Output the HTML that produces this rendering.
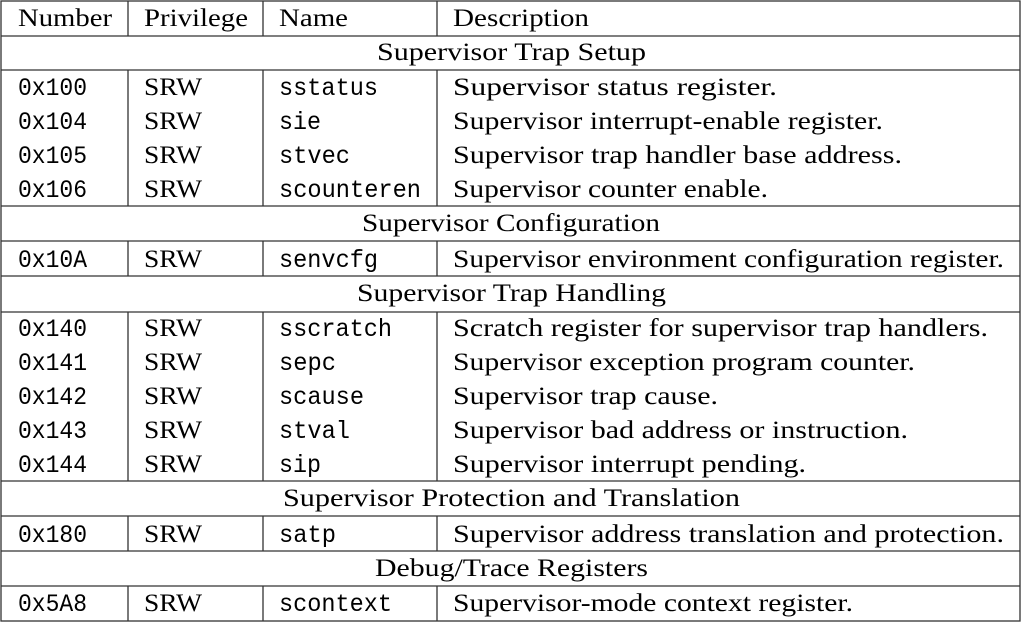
<!DOCTYPE html>
<html><head><style>html,body{margin:0;padding:0;background:#fff}svg{display:block}
.s{font-family:"Liberation Serif",serif;font-size:25px;fill:#000}
.m{font-family:"Liberation Mono",monospace;font-size:25px;fill:#000}</style></head><body>
<svg width="1023" height="623" xmlns="http://www.w3.org/2000/svg">
<g stroke="#333" stroke-width="1.3" fill="none">
<rect x="1" y="1" width="1019" height="620"/>
<line x1="1" y1="36" x2="1020" y2="36"/><line x1="1" y1="70" x2="1020" y2="70"/>
<line x1="1" y1="206" x2="1020" y2="206"/><line x1="1" y1="241" x2="1020" y2="241"/>
<line x1="1" y1="276" x2="1020" y2="276"/><line x1="1" y1="312" x2="1020" y2="312"/>
<line x1="1" y1="481" x2="1020" y2="481"/><line x1="1" y1="516" x2="1020" y2="516"/>
<line x1="1" y1="551" x2="1020" y2="551"/><line x1="1" y1="586" x2="1020" y2="586"/>
<line x1="128" y1="1" x2="128" y2="36"/><line x1="263" y1="1" x2="263" y2="36"/><line x1="437" y1="1" x2="437" y2="36"/>
<line x1="128" y1="70" x2="128" y2="206"/><line x1="263" y1="70" x2="263" y2="206"/><line x1="437" y1="70" x2="437" y2="206"/>
<line x1="128" y1="241" x2="128" y2="276"/><line x1="263" y1="241" x2="263" y2="276"/><line x1="437" y1="241" x2="437" y2="276"/>
<line x1="128" y1="312" x2="128" y2="481"/><line x1="263" y1="312" x2="263" y2="481"/><line x1="437" y1="312" x2="437" y2="481"/>
<line x1="128" y1="516" x2="128" y2="551"/><line x1="263" y1="516" x2="263" y2="551"/><line x1="437" y1="516" x2="437" y2="551"/>
<line x1="128" y1="586" x2="128" y2="621"/><line x1="263" y1="586" x2="263" y2="621"/><line x1="437" y1="586" x2="437" y2="621"/>
</g>
<g>
<text class="s" lengthAdjust="spacingAndGlyphs" x="18" y="26" textLength="94">Number</text>
<text class="s" lengthAdjust="spacingAndGlyphs" x="144" y="26" textLength="104">Privilege</text>
<text class="s" lengthAdjust="spacingAndGlyphs" x="279" y="26" textLength="69">Name</text>
<text class="s" lengthAdjust="spacingAndGlyphs" x="453" y="26" textLength="136">Description</text>

<text class="s" lengthAdjust="spacingAndGlyphs" x="377" y="60" textLength="269">Supervisor Trap Setup</text>
<text class="s" lengthAdjust="spacingAndGlyphs" x="362" y="231" textLength="298">Supervisor Configuration</text>
<text class="s" lengthAdjust="spacingAndGlyphs" x="357" y="301" textLength="309">Supervisor Trap Handling</text>
<text class="s" lengthAdjust="spacingAndGlyphs" x="283" y="506" textLength="457">Supervisor Protection and Translation</text>
<text class="s" lengthAdjust="spacingAndGlyphs" x="375" y="576" textLength="273">Debug/Trace Registers</text>

<text class="m" lengthAdjust="spacingAndGlyphs" x="18" y="95" textLength="69">0x100</text><text class="s" lengthAdjust="spacingAndGlyphs" x="144" y="95" textLength="58">SRW</text><text class="m" lengthAdjust="spacingAndGlyphs" x="279" y="95" textLength="99">sstatus</text><text class="s" lengthAdjust="spacingAndGlyphs" x="453" y="95" textLength="324">Supervisor status register.</text>
<text class="m" lengthAdjust="spacingAndGlyphs" x="18" y="129" textLength="69">0x104</text><text class="s" lengthAdjust="spacingAndGlyphs" x="144" y="129" textLength="58">SRW</text><text class="m" lengthAdjust="spacingAndGlyphs" x="279" y="129" textLength="42">sie</text><text class="s" lengthAdjust="spacingAndGlyphs" x="453" y="129" textLength="430">Supervisor interrupt-enable register.</text>
<text class="m" lengthAdjust="spacingAndGlyphs" x="18" y="163" textLength="69">0x105</text><text class="s" lengthAdjust="spacingAndGlyphs" x="144" y="163" textLength="58">SRW</text><text class="m" lengthAdjust="spacingAndGlyphs" x="279" y="163" textLength="71">stvec</text><text class="s" lengthAdjust="spacingAndGlyphs" x="453" y="163" textLength="449">Supervisor trap handler base address.</text>
<text class="m" lengthAdjust="spacingAndGlyphs" x="18" y="197" textLength="69">0x106</text><text class="s" lengthAdjust="spacingAndGlyphs" x="144" y="197" textLength="58">SRW</text><text class="m" lengthAdjust="spacingAndGlyphs" x="279" y="197" textLength="142">scounteren</text><text class="s" lengthAdjust="spacingAndGlyphs" x="453" y="197" textLength="315">Supervisor counter enable.</text>

<text class="m" lengthAdjust="spacingAndGlyphs" x="18" y="267" textLength="69">0x10A</text><text class="s" lengthAdjust="spacingAndGlyphs" x="144" y="267" textLength="58">SRW</text><text class="m" lengthAdjust="spacingAndGlyphs" x="279" y="267" textLength="99">senvcfg</text><text class="s" lengthAdjust="spacingAndGlyphs" x="453" y="267" textLength="551">Supervisor environment configuration register.</text>

<text class="m" lengthAdjust="spacingAndGlyphs" x="18" y="336" textLength="69">0x140</text><text class="s" lengthAdjust="spacingAndGlyphs" x="144" y="336" textLength="58">SRW</text><text class="m" lengthAdjust="spacingAndGlyphs" x="279" y="336" textLength="113">sscratch</text><text class="s" lengthAdjust="spacingAndGlyphs" x="453" y="336" textLength="535">Scratch register for supervisor trap handlers.</text>
<text class="m" lengthAdjust="spacingAndGlyphs" x="18" y="370" textLength="69">0x141</text><text class="s" lengthAdjust="spacingAndGlyphs" x="144" y="370" textLength="58">SRW</text><text class="m" lengthAdjust="spacingAndGlyphs" x="279" y="370" textLength="57">sepc</text><text class="s" lengthAdjust="spacingAndGlyphs" x="453" y="370" textLength="462">Supervisor exception program counter.</text>
<text class="m" lengthAdjust="spacingAndGlyphs" x="18" y="404" textLength="69">0x142</text><text class="s" lengthAdjust="spacingAndGlyphs" x="144" y="404" textLength="58">SRW</text><text class="m" lengthAdjust="spacingAndGlyphs" x="279" y="404" textLength="85">scause</text><text class="s" lengthAdjust="spacingAndGlyphs" x="453" y="404" textLength="265">Supervisor trap cause.</text>
<text class="m" lengthAdjust="spacingAndGlyphs" x="18" y="438" textLength="69">0x143</text><text class="s" lengthAdjust="spacingAndGlyphs" x="144" y="438" textLength="58">SRW</text><text class="m" lengthAdjust="spacingAndGlyphs" x="279" y="438" textLength="71">stval</text><text class="s" lengthAdjust="spacingAndGlyphs" x="453" y="438" textLength="455">Supervisor bad address or instruction.</text>
<text class="m" lengthAdjust="spacingAndGlyphs" x="18" y="472" textLength="69">0x144</text><text class="s" lengthAdjust="spacingAndGlyphs" x="144" y="472" textLength="58">SRW</text><text class="m" lengthAdjust="spacingAndGlyphs" x="279" y="472" textLength="42">sip</text><text class="s" lengthAdjust="spacingAndGlyphs" x="453" y="472" textLength="353">Supervisor interrupt pending.</text>

<text class="m" lengthAdjust="spacingAndGlyphs" x="18" y="542" textLength="69">0x180</text><text class="s" lengthAdjust="spacingAndGlyphs" x="144" y="542" textLength="58">SRW</text><text class="m" lengthAdjust="spacingAndGlyphs" x="279" y="542" textLength="57">satp</text><text class="s" lengthAdjust="spacingAndGlyphs" x="453" y="542" textLength="551">Supervisor address translation and protection.</text>

<text class="m" lengthAdjust="spacingAndGlyphs" x="18" y="611" textLength="69">0x5A8</text><text class="s" lengthAdjust="spacingAndGlyphs" x="144" y="611" textLength="58">SRW</text><text class="m" lengthAdjust="spacingAndGlyphs" x="279" y="611" textLength="113">scontext</text><text class="s" lengthAdjust="spacingAndGlyphs" x="453" y="611" textLength="400">Supervisor-mode context register.</text>
</g>
</svg></body></html>
